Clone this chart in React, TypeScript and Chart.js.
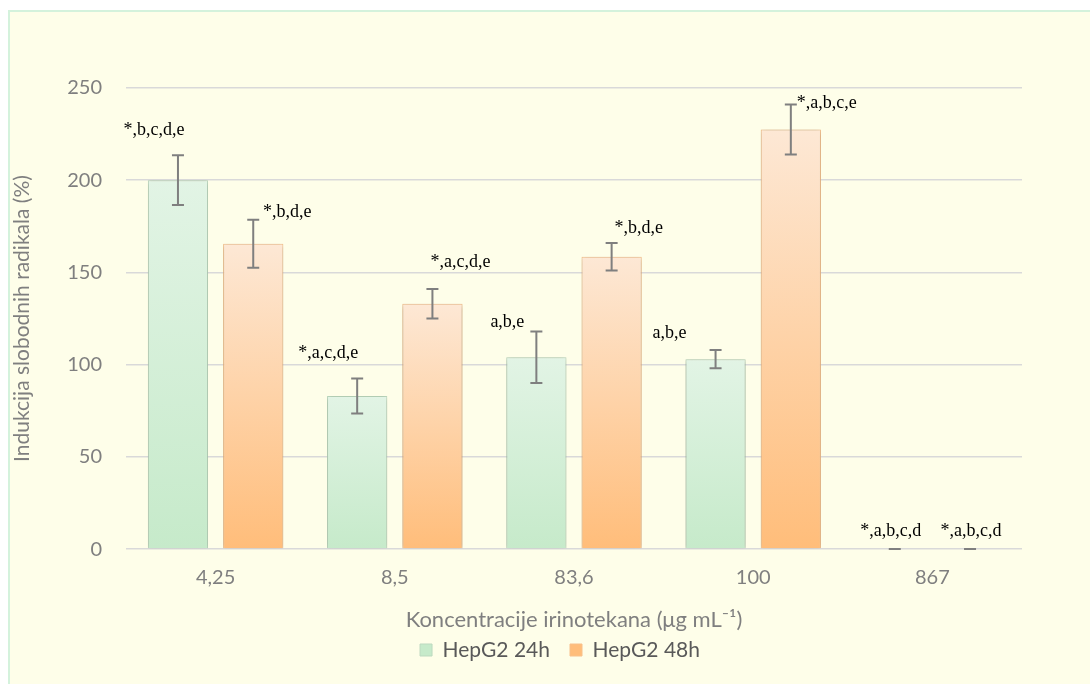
import React, { useEffect, useRef } from "react";
import { Chart, registerables } from "chart.js";

Chart.register(...registerables);

const categories = ["4,25", "8,5", "83,6", "100", "867"];
const series24 = [200, 83, 104, 103, 0];
const series48 = [165.5, 133, 158.5, 227.5, 0];
const err24 = [13.5, 9.5, 14, 5, 0];
const err48 = [13, 8, 7.5, 13.5, 0];
const labels24 = ["*,b,c,d,e", "*,a,c,d,e", "a,b,e", "a,b,e", "*,a,b,c,d"];
const labels48 = ["*,b,d,e", "*,a,c,d,e", "*,b,d,e", "*,a,b,c,e", "*,a,b,c,d"];
const yTicks = [0, 50, 100, 150, 200, 250];

// label offsets (px) relative to bar centre / error-bar top
const off24 = [[-24, -25], [-29, -25], [-29, -9], [-46, -17], [-4, -18]];
const off48 = [[34, -8], [28, -27], [27, -15], [36, -1], [1, -18]];

const FONT = "Lato, 'Open Sans', sans-serif";
const LEGEND_SHIFT = 44;

function makeGrad(ctx: any, top: number, bottom: number, c1: string, c2: string) {
  const g = ctx.createLinearGradient(0, top, 0, bottom);
  g.addColorStop(0, c1);
  g.addColorStop(1, c2);
  return g;
}

export default function App() {
  const ref = useRef<HTMLCanvasElement | null>(null);
  useEffect(() => {
    document.body.style.overflow = "hidden";
    const canvas = ref.current!;
    const gradFor = (c1: string, c2: string, mid: string) => (context: any) => {
      const chart = context.chart;
      const area = chart.chartArea;
      if (!area || context.type !== "data") return mid;
      const y = chart.scales.y;
      const v = context.raw as number;
      const top = y.getPixelForValue(v);
      const bottom = y.getPixelForValue(0);
      if (bottom - top < 1) return c2;
      return makeGrad(chart.ctx, top, bottom, c1, c2);
    };

    const legendShift = {
      id: "legendShift",
      afterLayout(chart: any) {
        if (chart.legend) {
          chart.legend.left += LEGEND_SHIFT;
          chart.legend.right += LEGEND_SHIFT;
        }
      },
    };

    const shadowPlugin = {
      id: "shadow",
      beforeDatasetsDraw(chart: any) {
        const ctx = chart.ctx;
        ctx.save();
        ctx.shadowColor = "rgba(0,0,0,0.28)";
        ctx.shadowBlur = 5;
        ctx.shadowOffsetX = 0;
        ctx.shadowOffsetY = 1;
      },
      afterDatasetsDraw(chart: any) {
        chart.ctx.restore();
      },
    };

    const errorPlugin = {
      id: "errs",
      afterDatasetsDraw(chart: any) {
        const ctx = chart.ctx;
        const y = chart.scales.y;
        const errs = [err24, err48];
        const labs = [labels24, labels48];
        const offs = [off24, off48];
        ctx.save();
        for (let d = 0; d < 2; d++) {
          const meta = chart.getDatasetMeta(d);
          const vals = chart.data.datasets[d].data as number[];
          meta.data.forEach((bar: any, i: number) => {
            const v = vals[i];
            const e = errs[d][i];
            const x = bar.x;
            const yt = y.getPixelForValue(v + e);
            const yb = y.getPixelForValue(Math.max(0, v - e));
            ctx.strokeStyle = "#7f7f7f";
            ctx.lineWidth = 2;
            ctx.beginPath();
            ctx.moveTo(x, yt);
            ctx.lineTo(x, yb);
            ctx.moveTo(x - 6, yt);
            ctx.lineTo(x + 6, yt);
            ctx.moveTo(x - 6, yb);
            ctx.lineTo(x + 6, yb);
            ctx.stroke();
            ctx.fillStyle = "#000";
            ctx.font = "18px 'Liberation Serif', 'Times New Roman', serif";
            ctx.textAlign = "center";
            ctx.textBaseline = "middle";
            ctx.fillText(labs[d][i], x + offs[d][i][0], yt + offs[d][i][1]);
          });
        }
        ctx.restore();
      },
    };

    const chart = new Chart(canvas, {
      type: "bar",
      data: {
        labels: categories,
        datasets: [
          {
            label: "HepG2 24h",
            data: series24,
            backgroundColor: gradFor("#e2f4e5", "#c6eaca", "#d6f0da") as any,
            borderColor: "#bcd9bf",
            borderWidth: 1,
            categoryPercentage: 0.84,
            barPercentage: 0.8,
          },
          {
            label: "HepG2 48h",
            data: series48,
            backgroundColor: gradFor("#fde8d5", "#ffbd7a", "#fdd8b6") as any,
            borderColor: "#f8c08a",
            borderWidth: 1,
            categoryPercentage: 0.84,
            barPercentage: 0.8,
          },
        ],
      },
      options: {
        responsive: false,
        animation: false,
        maintainAspectRatio: false,
        layout: { padding: { left: 0, right: 68, top: 76, bottom: 13.5 } },
        scales: {
          x: {
            grid: { display: false, drawTicks: false },
            border: { display: false },
            ticks: { color: "#7f7f7f", font: { family: FONT, size: 20 }, padding: 16 },
            title: {
              display: true,
              text: "Koncentracije irinotekana (μg mL⁻¹)",
              color: "#7f7f7f",
              font: { family: FONT, size: 22 },
              padding: { top: 2, bottom: -14 },
            },
          },
          y: {
            min: 0,
            max: 250,
            afterBuildTicks(axis: any) {
              axis.ticks = yTicks.map((v) => ({ value: v }));
            },
            grid: { color: "#d9d9d9", lineWidth: 1.5, drawTicks: false },
            border: { display: false },
            ticks: { color: "#7f7f7f", font: { family: FONT, size: 20 }, padding: 24 },
            title: {
              display: true,
              text: "Indukcija slobodnih radikala (%)",
              color: "#7f7f7f",
              font: { family: FONT, size: 21 },
              padding: { top: 0, bottom: 8 },
            },
          },
        },
        plugins: {
          legend: {
            position: "bottom",
            labels: {
              color: "#595959",
              font: { family: FONT, size: 21 },
              boxWidth: 12,
              boxHeight: 12,
              padding: 20,
            },
          },
          tooltip: { enabled: false },
        },
      },
      plugins: [legendShift, shadowPlugin, errorPlugin],
    });
    return () => chart.destroy();
  }, []);

  return (
    <div
      style={{
        position: "absolute",
        left: 8,
        top: 10,
        width: 1084,
        height: 676,
        border: "2px solid #d4f2dc",
        background: "#fefee9",
      }}
    >
      <canvas ref={ref} width={1080} height={672} style={{ display: "block" }} />
    </div>
  );
}
